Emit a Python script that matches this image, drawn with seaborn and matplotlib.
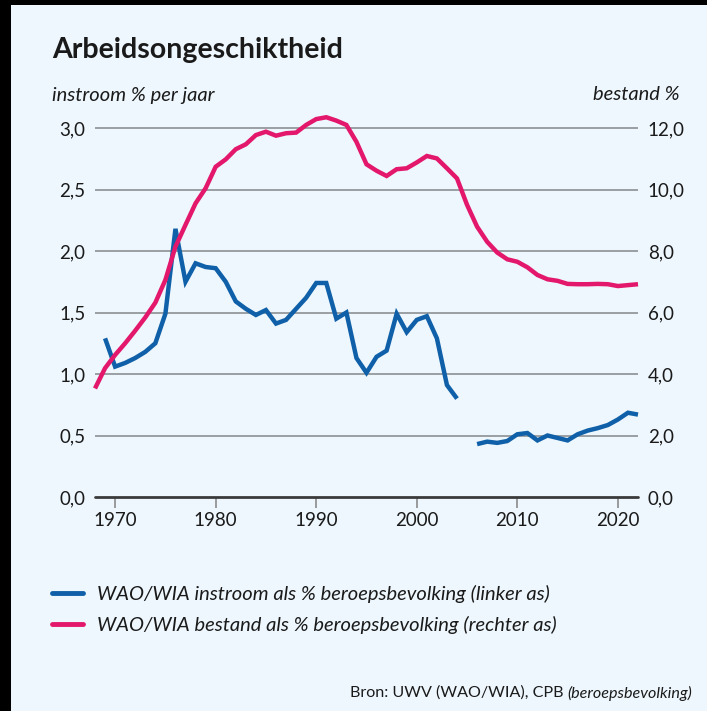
import numpy as np
import pandas as pd
import seaborn as sns
import matplotlib
matplotlib.use("Agg")
import matplotlib.pyplot as plt
from matplotlib.patches import Rectangle
from matplotlib.lines import Line2D

# ---------------- data ----------------
years_instroom = list(range(1969, 2023))
instroom = [1.29, 1.06, 1.09, 1.13, 1.18, 1.25, 1.49, 2.18, 1.75, 1.90,
            1.87, 1.86, 1.75, 1.59, 1.53, 1.48, 1.52, 1.41, 1.44, 1.53,
            1.62, 1.74, 1.74, 1.45, 1.50, 1.13, 1.01, 1.14, 1.19, 1.49,
            1.34, 1.44, 1.47, 1.29, 0.91, 0.80, None, 0.43, 0.45, 0.44,
            0.455, 0.51, 0.52, 0.46, 0.50, 0.48, 0.46, 0.51, 0.54, 0.56,
            0.585, 0.63, 0.685, 0.67]

years_bestand = list(range(1968, 2023))
bestand = [3.53, 4.19, 4.62, 5.00, 5.41, 5.84, 6.32, 7.06, 8.14, 8.85,
           9.55, 10.04, 10.74, 10.98, 11.31, 11.47, 11.77, 11.88, 11.75, 11.83,
           11.85, 12.10, 12.29, 12.35, 12.24, 12.10, 11.55, 10.82, 10.61, 10.44,
           10.66, 10.69, 10.88, 11.09, 11.01, 10.69, 10.36, 9.50, 8.79, 8.30,
           7.95, 7.73, 7.65, 7.47, 7.22, 7.08, 7.03, 6.93, 6.92, 6.92,
           6.93, 6.92, 6.86, 6.89, 6.92]

left_ticks = [0.0, 0.5, 1.0, 1.5, 2.0, 2.5, 3.0]
left_labels = ["0,0", "0,5", "1,0", "1,5", "2,0", "2,5", "3,0"]
right_ticks = [0.0, 2.0, 4.0, 6.0, 8.0, 10.0, 12.0]
right_labels = ["0,0", "2,0", "4,0", "6,0", "8,0", "10,0", "12,0"]
x_ticks = [1970, 1980, 1990, 2000, 2010, 2020]
x_labels = ["1970", "1980", "1990", "2000", "2010", "2020"]

title = "Arbeidsongeschiktheid"
left_unit = "instroom % per jaar"
right_unit = "bestand %"
label_instroom = "WAO/WIA instroom als % beroepsbevolking (linker as)"
label_bestand = "WAO/WIA bestand als % beroepsbevolking (rechter as)"
source_a = "Bron: UWV (WAO/WIA), CPB "
source_b = "(beroepsbevolking)"

# ---------------- style ----------------
BG = "#eef7fd"
BLUE = "#0f60a8"
PINK = "#e3176b"
GRID = "#9a9fa3"
TXT = "#1a1a1a"

sns.set_theme(style="white")
plt.rcParams["font.family"] = ["Lato", "DejaVu Sans"]

W, H = 707, 711
fig = plt.figure(figsize=(W / 100, H / 100), dpi=100, facecolor=BG)

# axes placement in pixels
x0, x1 = 95, 638
y_zero = 497
px_per_unit = 123.0
ytop_val = 3.15
y_top_px = y_zero - ytop_val * px_per_unit
ax = fig.add_axes([x0 / W, 1 - y_zero / H, (x1 - x0) / W, (y_zero - y_top_px) / H])
ax.set_facecolor("none")
ax2 = ax.twinx()
ax2.set_facecolor("none")

# blue series (gap in 2005)
df_in = pd.DataFrame({"jaar": years_instroom, "waarde": instroom}).astype(float)
valid = df_in["waarde"].notna()
seg = (~valid).cumsum()
for s, part in df_in[valid].groupby(seg[valid]):
    sns.lineplot(data=part, x="jaar", y="waarde", ax=ax, color=BLUE, lw=3.2,
                 solid_capstyle="butt", solid_joinstyle="miter", clip_on=False,
                 legend=False)

df_be = pd.DataFrame({"jaar": years_bestand, "waarde": bestand})
sns.lineplot(data=df_be, x="jaar", y="waarde", ax=ax2, color=PINK, lw=3.2,
             solid_capstyle="butt", solid_joinstyle="miter", clip_on=False,
             legend=False)

ax.set_xlim(1968, 2022)
ax.set_ylim(0, ytop_val)
ax2.set_ylim(0, ytop_val * 4)

# grid lines
for v in left_ticks[1:]:
    ax.axhline(v, color=GRID, lw=1.4, zorder=0)

for a in (ax, ax2):
    for sp in ("top", "left", "right", "bottom"):
        a.spines[sp].set_visible(False)
ax.axhline(0, color="#3a3a3a", lw=2.0, zorder=1, clip_on=False)

ax.set_xlabel("")
ax.set_ylabel("")
ax2.set_ylabel("")
ax.set_xticks(x_ticks)
ax.set_xticklabels(x_labels)
ax.set_yticks(left_ticks)
ax.set_yticklabels(left_labels)
ax2.set_yticks(right_ticks)
ax2.set_yticklabels(right_labels)
ax.tick_params(axis="x", length=8, width=1.2, color="#8a8a8a", pad=3,
               labelsize=13.5, labelcolor=TXT, direction="out", bottom=True)
ax.tick_params(axis="y", length=0, pad=7, labelsize=13.5, labelcolor=TXT)
ax2.tick_params(axis="y", length=0, pad=7, labelsize=13.5, labelcolor=TXT)

# texts
fig.text(52 / W, 1 - 58 / H, title, fontsize=20.5, fontweight="bold",
         color=TXT, ha="left", va="baseline")
fig.text(52 / W, 1 - 95 / H, left_unit, fontsize=14.5, style="italic",
         color=TXT, ha="left", va="center")
fig.text(680 / W, 1 - 95 / H, right_unit, fontsize=14.5, style="italic",
         color=TXT, ha="right", va="center")

# legend
handles = [Line2D([], [], color=BLUE, lw=3.5), Line2D([], [], color=PINK, lw=3.5)]
leg = fig.legend(handles, [label_instroom, label_bestand], loc="upper left",
                 bbox_to_anchor=(52 / W, 1 - 585 / H), frameon=False,
                 borderpad=0, borderaxespad=0, handlelength=1.55,
                 handletextpad=0.7, labelspacing=0.62,
                 prop={"size": 14.5, "style": "italic"})
for t in leg.get_texts():
    t.set_color(TXT)

# source
fig.canvas.draw()
tb = fig.text(692 / W, 1 - 693 / H, source_b, fontsize=11.6, style="italic",
              color=TXT, ha="right", va="center")
fig.canvas.draw()
bb = tb.get_window_extent()
fig.text(bb.x0 / W, 1 - 693 / H, source_a, fontsize=11.6, color=TXT,
         ha="right", va="center")

# black frame strips (as in reference)
fig.add_artist(Rectangle((0, 0), 11 / W, 1, transform=fig.transFigure,
                         facecolor="black", edgecolor="none", zorder=10))
fig.add_artist(Rectangle((0, 1 - 5 / H), 1, 5 / H, transform=fig.transFigure,
                         facecolor="black", edgecolor="none", zorder=10))

fig.savefig("out.png", dpi=100, facecolor=BG)
